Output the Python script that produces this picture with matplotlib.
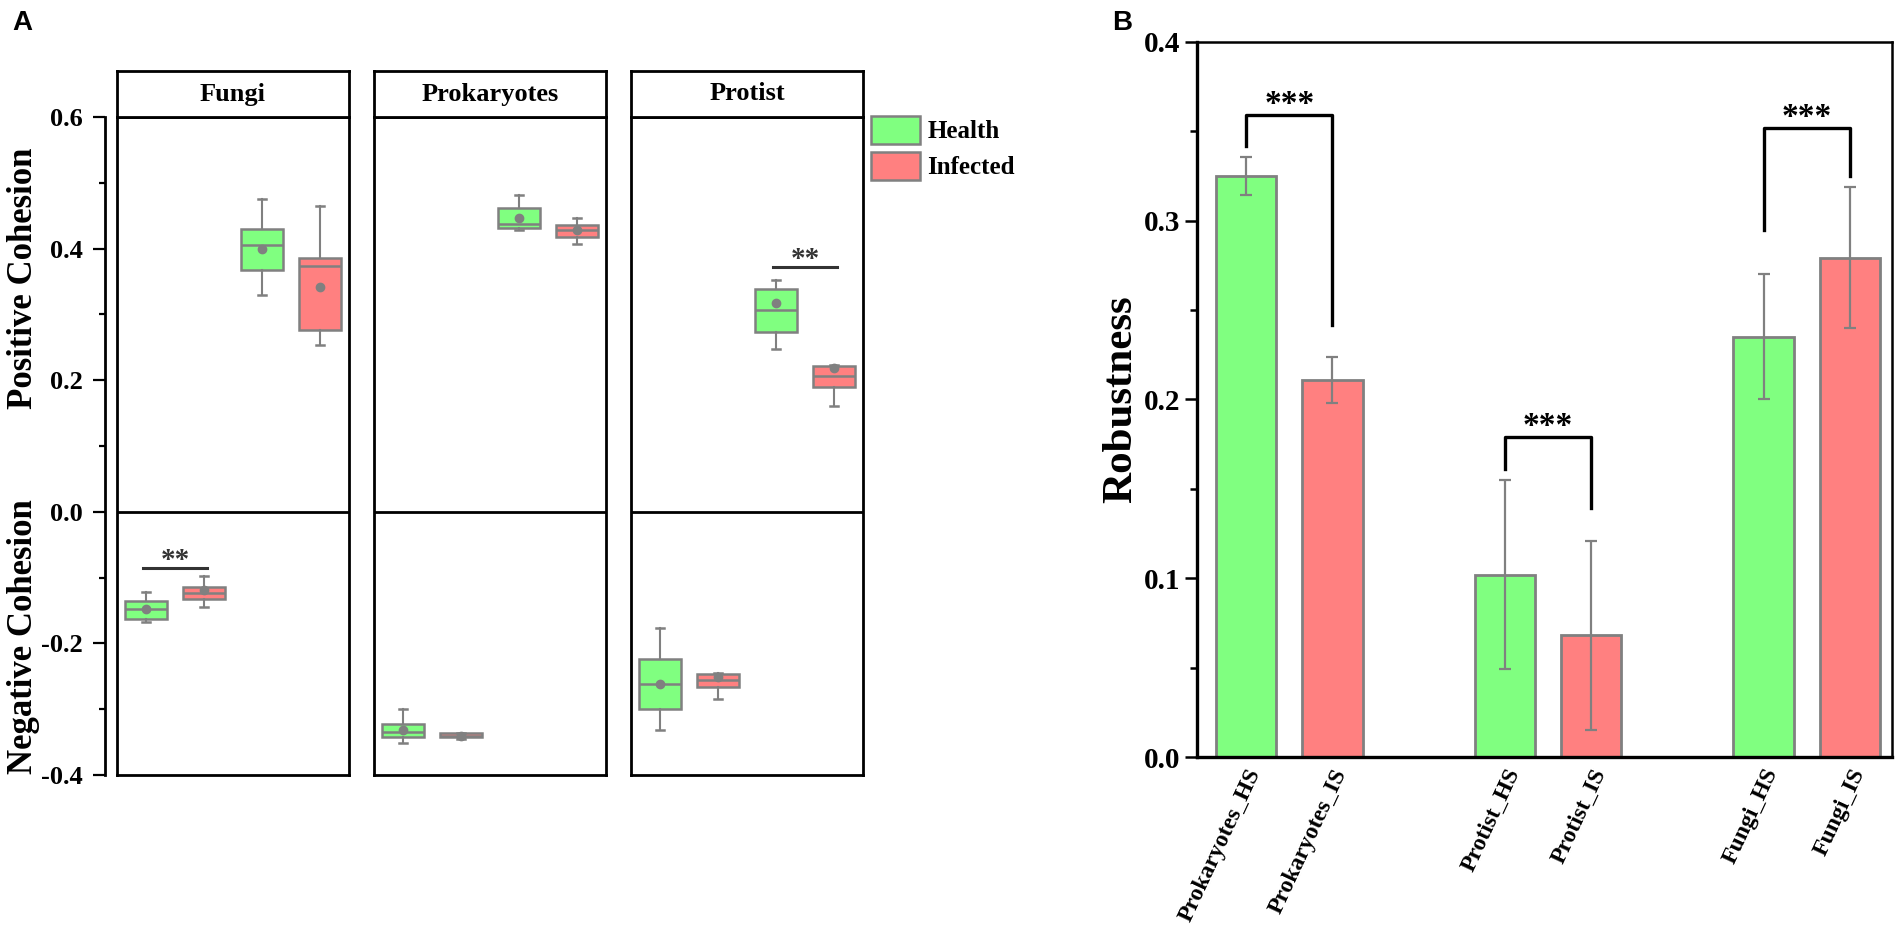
import matplotlib
matplotlib.use("Agg")
import matplotlib.pyplot as plt
from matplotlib.patches import Patch
from matplotlib.ticker import FixedLocator, MultipleLocator

plt.rcParams['font.family'] = ['Liberation Serif', 'DejaVu Serif']
plt.rcParams['font.weight'] = 'bold'
plt.rcParams['axes.labelweight'] = 'bold'

# ---------------- panel A data ----------------
groups = ['Fungi', 'Prokaryotes', 'Protist']
conditions = ['Health', 'Infected']
# one row per group: whisker low, Q1, median, Q3, whisker high, mean
pos_health = [[0.330, 0.368, 0.406, 0.430, 0.475, 0.400],
              [0.428, 0.431, 0.438, 0.461, 0.481, 0.447],
              [0.247, 0.273, 0.306, 0.338, 0.352, 0.318]]
pos_infected = [[0.253, 0.276, 0.374, 0.386, 0.464, 0.341],
                [0.407, 0.417, 0.429, 0.436, 0.446, 0.428],
                [0.161, 0.189, 0.207, 0.222, 0.223, 0.219]]
neg_health = [[-0.168, -0.163, -0.147, -0.136, -0.122, -0.147],
              [-0.352, -0.343, -0.335, -0.323, -0.300, -0.332],
              [-0.332, -0.300, -0.262, -0.224, -0.177, -0.261]]
neg_infected = [[-0.145, -0.132, -0.124, -0.115, -0.098, -0.119],
                [-0.346, -0.343, -0.340, -0.336, -0.336, -0.340],
                [-0.284, -0.266, -0.255, -0.247, -0.245, -0.251]]
a_ticks = [0.6, 0.4, 0.2, 0.0, -0.2, -0.4]
a_ticklabels = ['0.6', '0.4', '0.2', '0.0', '-0.2', '-0.4']
# significance marks: group, which half, line height, label
sig_a_group = ['Fungi', 'Protist']
sig_a_half = ['neg', 'pos']
sig_a_y = [-0.085, 0.372]
sig_a_text = ['**', '**']

# ---------------- panel B data ----------------
samples = ['Prokaryotes_HS', 'Prokaryotes_IS', 'Protist_HS', 'Protist_IS',
           'Fungi_HS', 'Fungi_IS']
robust_mean = [0.325, 0.211, 0.102, 0.068, 0.235, 0.279]
robust_lo = [0.3145, 0.198, 0.049, 0.015, 0.200, 0.240]
robust_hi = [0.3355, 0.224, 0.155, 0.121, 0.270, 0.319]
# brackets: first/second bar index, left leg end, top, right leg end
sig_b_pair = [(0, 1), (2, 3), (4, 5)]
sig_b_left = [0.342, 0.161, 0.295]
sig_b_top = [0.359, 0.179, 0.352]
sig_b_right = [0.2415, 0.1395, 0.325]
sig_b_text = ['***', '***', '***']

green = '#80FF80'
red = '#FF8080'
grey = '#808080'

W, H = 1902, 939
fig = plt.figure(figsize=(W / 100, H / 100), dpi=100)


def px_axes(x0, y0, x1, y1):
    return fig.add_axes([x0 / W, 1 - y1 / H, (x1 - x0) / W, (y1 - y0) / H])


# ---------------- panel A ----------------
facet_left = [117, 374, 631]
facet_w = 232
top, strip_top, bottom = 117, 71, 775
ylim_a = (-0.4, 0.6)

for gi, g in enumerate(groups):
    x0 = facet_left[gi]
    ax = px_axes(x0, top, x0 + facet_w, bottom)
    series = [neg_health[gi], neg_infected[gi], pos_health[gi], pos_infected[gi]]
    stats = []
    for row in series:
        stats.append(dict(whislo=row[0], q1=row[1], med=row[2], q3=row[3],
                          whishi=row[4], mean=row[5], fliers=[]))
    bp = ax.bxp(stats, positions=[0.5, 1.5, 2.5, 3.5], widths=0.71,
                patch_artist=True, showmeans=True, capwidths=0.14,
                boxprops=dict(edgecolor=grey, linewidth=1.8),
                medianprops=dict(color=grey, linewidth=1.8),
                whiskerprops=dict(color=grey, linewidth=1.5),
                capprops=dict(color=grey, linewidth=1.8),
                meanprops=dict(marker='o', markerfacecolor=grey,
                               markeredgecolor=grey, markersize=6))
    for b, c in zip(bp['boxes'], [green, red, green, red]):
        b.set_facecolor(c)
    ax.axhline(0, color='black', lw=2)
    ax.set_xlim(0, 4)
    ax.set_ylim(*ylim_a)
    ax.set_xticks([])
    ax.set_yticks([])
    for s in ax.spines.values():
        s.set_linewidth(2)

    for sg, half, sy, st in zip(sig_a_group, sig_a_half, sig_a_y, sig_a_text):
        if sg != g:
            continue
        xa, xb = (0.45, 1.55) if half == 'neg' else (2.45, 3.55)
        ax.plot([xa, xb], [sy, sy], color='#333333', lw=2.2)
        ax.text((xa + xb) / 2, sy, st, ha='center', va='baseline',
                fontsize=21, fontweight='bold', color='#333333')

    strip = px_axes(x0, strip_top, x0 + facet_w, top)
    strip.set_xticks([])
    strip.set_yticks([])
    for s in strip.spines.values():
        s.set_linewidth(2)
    strip.text(0.5, 0.5, g, ha='center', va='center', fontsize=19,
               transform=strip.transAxes)

# separate y axis of panel A
ay = px_axes(105, top, 106, bottom)
ay.set_facecolor('none')
for k in ['top', 'right', 'bottom']:
    ay.spines[k].set_visible(False)
ay.spines['left'].set_linewidth(2)
ay.set_ylim(*ylim_a)
ay.set_xticks([])
ay.yaxis.set_major_locator(FixedLocator(a_ticks))
ay.set_yticklabels(a_ticklabels)
ay.yaxis.set_minor_locator(MultipleLocator(0.1))
ay.tick_params(axis='y', which='major', length=9, width=1.6, labelsize=19, pad=7)
ay.tick_params(axis='y', which='minor', length=4, width=1.6)

fig.text(24 / W, 1 - 278 / H, 'Positive Cohesion', rotation=90, ha='center',
         va='center', fontsize=25)
fig.text(24 / W, 1 - 637 / H, 'Negative Cohesion', rotation=90, ha='center',
         va='center', fontsize=25)

handles = [Patch(facecolor=green, edgecolor=grey, lw=1.8),
           Patch(facecolor=red, edgecolor=grey, lw=1.8)]
fig.legend(handles, conditions, loc='upper left',
           bbox_to_anchor=(871 / W, 1 - 116 / H), frameon=False, fontsize=18,
           handlelength=1.95, handleheight=1.35, handletextpad=0.3,
           labelspacing=0.3, borderpad=0, borderaxespad=0)

fig.text(12 / W, 1 - 10 / H, 'A', fontsize=20, fontweight='bold',
         family='Liberation Sans', ha='left', va='top')

# ---------------- panel B ----------------
axb = px_axes(1197, 42, 1892, 757)
xpos = [i // 2 * 3 + i % 2 for i in range(len(samples))]
colors = [green if i % 2 == 0 else red for i in range(len(samples))]
err = [[m - lo for m, lo in zip(robust_mean, robust_lo)],
       [hi - m for m, hi in zip(robust_mean, robust_hi)]]
axb.bar(xpos, robust_mean, width=0.70, color=colors, edgecolor=grey,
        linewidth=2.0, yerr=err,
        error_kw=dict(ecolor=grey, elinewidth=1.6, capsize=4.5, capthick=1.6))

for (i, j), yl, yt, yr, st in zip(sig_b_pair, sig_b_left, sig_b_top,
                                   sig_b_right, sig_b_text):
    xa, xb = xpos[i], xpos[j]
    axb.plot([xa, xa, xb, xb], [yl, yt, yt, yr], color='black', lw=2.4)
    axb.text((xa + xb) / 2, yt + 0.001, st, ha='center', va='baseline',
             fontsize=24, fontweight='bold')

axb.set_xlim(-0.57, 7.49)
axb.set_ylim(0, 0.4)
axb.set_xticks(xpos)
axb.set_xticklabels(samples, rotation=65, ha='right', rotation_mode='anchor',
                    fontsize=17)
axb.tick_params(axis='x', length=0, pad=6)
axb.set_yticks([0.0, 0.1, 0.2, 0.3, 0.4])
axb.set_yticklabels(['0.0', '0.1', '0.2', '0.3', '0.4'])
axb.yaxis.set_minor_locator(MultipleLocator(0.05))
axb.tick_params(axis='y', which='major', length=9, width=1.8, labelsize=21, pad=3)
axb.tick_params(axis='y', which='minor', length=5, width=1.8)
for k in ['left', 'bottom']:
    axb.spines[k].set_linewidth(2.4)
for k in ['top', 'right']:
    axb.spines[k].set_linewidth(1.8)
axb.set_ylabel('Robustness', fontsize=31, fontweight='bold')
axb.yaxis.set_label_coords(-0.082, 0.5)

fig.text(1112 / W, 1 - 10 / H, 'B', fontsize=20, fontweight='bold',
         family='Liberation Sans', ha='left', va='top')

fig.savefig('out.png', dpi=100)
